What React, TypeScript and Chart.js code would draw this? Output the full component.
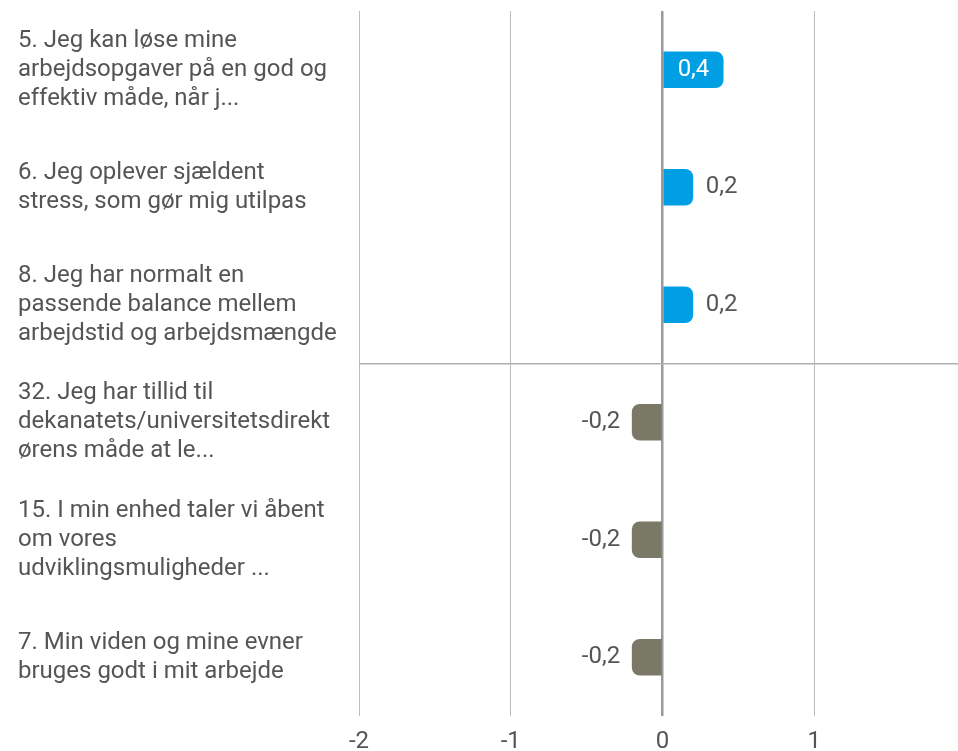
import React, { useEffect, useRef } from "react";
import { Chart, registerables } from "chart.js";

Chart.register(...registerables);

const categories: string[][] = [
  ["5. Jeg kan løse mine", "arbejdsopgaver på en god og", "effektiv måde, når j..."],
  ["6. Jeg oplever sjældent", "stress, som gør mig utilpas"],
  ["8. Jeg har normalt en", "passende balance mellem", "arbejdstid og arbejdsmængde"],
  ["32. Jeg har tillid til", "dekanatets/universitetsdirekt", "ørens måde at le..."],
  ["15. I min enhed taler vi åbent", "om vores", "udviklingsmuligheder ..."],
  ["7. Min viden og mine evner", "bruges godt i mit arbejde"],
];

const values: number[] = [0.4, 0.2, 0.2, -0.2, -0.2, -0.2];

const xTickValues: number[] = [-2, -1, 0, 1, 2];

const BLUE = "#009FE3";
const GREY = "#7A7866";
const TEXT = "#555555";

const fmt = (v: number) => String(v).replace(".", ",");

const valueLabels = {
  id: "valueLabels",
  afterDatasetsDraw(chart: any) {
    const ctx = chart.ctx;
    const meta = chart.getDatasetMeta(0);
    ctx.save();
    ctx.font = "24px Roboto";
    ctx.textBaseline = "middle";
    meta.data.forEach((bar: any, i: number) => {
      const v = values[i];
      const text = fmt(v);
      const tw = ctx.measureText(text).width;
      const left = Math.min(bar.x, bar.base);
      const right = Math.max(bar.x, bar.base);
      const w = right - left;
      if (w > tw + 12) {
        ctx.fillStyle = "#ffffff";
        ctx.textAlign = "center";
        ctx.fillText(text, (left + right) / 2, bar.y);
      } else if (v >= 0) {
        ctx.fillStyle = TEXT;
        ctx.textAlign = "left";
        ctx.fillText(text, right + 13, bar.y);
      } else {
        ctx.fillStyle = TEXT;
        ctx.textAlign = "right";
        ctx.fillText(text, left - 12, bar.y);
      }
    });
    ctx.restore();
  },
};

export default function App() {
  const ref = useRef<HTMLCanvasElement | null>(null);

  useEffect(() => {
    if (!ref.current) return;
    Chart.defaults.font.family = "Roboto";
    const chart = new Chart(ref.current, {
      type: "bar",
      data: {
        labels: categories,
        datasets: [
          {
            data: values,
            backgroundColor: values.map((v) => (v >= 0 ? BLUE : GREY)),
            barThickness: 36,
            borderRadius: 8,
            borderSkipped: "start",
          },
        ],
      },
      options: {
        indexAxis: "y",
        animation: false,
        responsive: false,
        layout: { padding: { left: 18, right: 34, top: 11, bottom: 0 } },
        plugins: {
          legend: { display: false },
          tooltip: { enabled: false },
        },
        scales: {
          x: {
            min: -2,
            max: 2,
            afterBuildTicks: (scale: any) => {
              scale.ticks = xTickValues.map((v) => ({ value: v }));
            },
            afterFit: (scale: any) => {
              scale.height = 35;
              scale.paddingLeft = 0;
              scale.paddingRight = 0;
            },
            border: { display: false },
            grid: {
              drawTicks: false,
              color: (c: any) => (c.tick && c.tick.value === 0 ? "#9a9a9a" : "#bdbdbd"),
              lineWidth: (c: any) => (c.tick && c.tick.value === 0 ? 2.5 : 1),
            },
            ticks: {
              padding: 12,
              color: TEXT,
              font: { size: 24 },
              callback: (v: any) => String(v),
            },
          },
          y: {
            afterFit: (scale: any) => {
              scale.width = 341;
              scale.paddingTop = 0;
              scale.paddingBottom = 0;
            },
            border: { display: false },
            grid: {
              offset: true,
              drawTicks: false,
              color: (c: any) => (c.index === 3 ? "#b0b0b0" : "rgba(0,0,0,0)"),
              lineWidth: 1.5,
            },
            ticks: {
              autoSkip: false,
              crossAlign: "far",
              color: TEXT,
              font: { size: 24, lineHeight: 1.2 },
            },
          },
        },
      },
      plugins: [valueLabels],
    });
    return () => chart.destroy();
  }, []);

  return (
    <div
      style={{
        position: "fixed",
        left: 0,
        top: 0,
        width: 958,
        height: 751,
        overflow: "hidden",
        background: "#ffffff",
      }}
    >
      <canvas ref={ref} width={1000} height={751} style={{ display: "block" }} />
    </div>
  );
}
